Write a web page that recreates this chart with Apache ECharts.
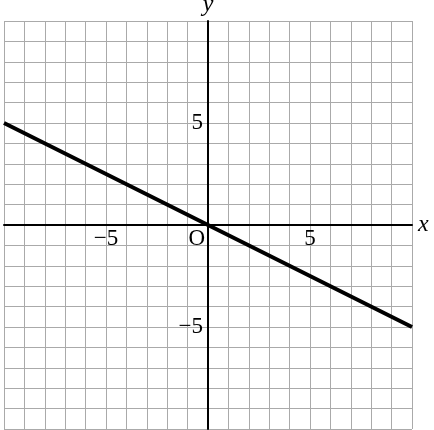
<!DOCTYPE html>
<html>
<head>
<meta charset="utf-8">
<script src="https://cdn.jsdelivr.net/npm/echarts@6/dist/echarts.min.js"></script>
<style>
  html, body { margin: 0; padding: 0; background: #fff; }
  #main { width: 434px; height: 430px; }
</style>
</head>
<body>
<div id="main"></div>
<script>
// line y = -x/2
var lineX = [-10, 0, 10];
var lineY = [5, 0, -5];
var axisMin = -10;
var axisMax = 10;
var labelTicks = [-5, 5];

var FONT = 'Liberation Serif';
var GRID_SIZE = 408;

function tickLabel(v) {
    if (labelTicks.indexOf(v) < 0) return '';
    return v < 0 ? '\u2212' + Math.abs(v) : String(v);
}

var chart = echarts.init(document.getElementById('main'));
var option = {
    animation: false,
    grid: { left: 4, top: 21, width: GRID_SIZE, height: GRID_SIZE, containLabel: false, outerBoundsMode: 'none' },
    xAxis: {
        type: 'value',
        min: axisMin,
        max: axisMax,
        interval: 1,
        position: 'bottom',
        offset: -GRID_SIZE / 2,
        name: 'x',
        nameLocation: 'end',
        nameGap: 6,
        nameTextStyle: { fontFamily: FONT, fontStyle: 'italic', fontSize: 24, color: '#000', verticalAlign: 'middle' },
        axisLine: { onZero: false, lineStyle: { color: '#000', width: 2 } },
        axisTick: { show: false },
        axisLabel: {
            formatter: tickLabel,
            margin: 2,
            fontFamily: FONT,
            fontSize: 23,
            color: '#000',
            showMinLabel: true,
            showMaxLabel: true
        },
        splitLine: { show: true, lineStyle: { color: '#aaa', width: 1 } }
    },
    yAxis: {
        type: 'value',
        min: axisMin,
        max: axisMax,
        interval: 1,
        position: 'left',
        offset: -GRID_SIZE / 2,
        name: 'y',
        nameLocation: 'end',
        nameGap: 4,
        nameTextStyle: { fontFamily: FONT, fontStyle: 'italic', fontSize: 24, color: '#000', align: 'center' },
        axisLine: { onZero: false, lineStyle: { color: '#000', width: 2 } },
        axisTick: { show: false },
        axisLabel: {
            formatter: tickLabel,
            margin: 5,
            fontFamily: FONT,
            fontSize: 23,
            color: '#000',
            padding: [4, 0, 0, 0]
        },
        splitLine: { show: true, lineStyle: { color: '#aaa', width: 1 } }
    },
    series: [{
        type: 'line',
        data: lineX.map(function (x, i) { return [x, lineY[i]]; }),
        showSymbol: false,
        lineStyle: { color: '#000', width: 4 },
        z: 5
    }]
};
chart.setOption(option);

// origin label "O"
var o = chart.convertToPixel({ gridIndex: 0 }, [0, 0]);
chart.setOption({
    graphic: [{
        type: 'text',
        x: o[0] - 3,
        y: o[1] + 2,
        style: {
            text: 'O',
            font: '23px "' + FONT + '"',
            fill: '#000',
            textAlign: 'right',
            textVerticalAlign: 'top'
        }
    }]
});
</script>
</body>
</html>
